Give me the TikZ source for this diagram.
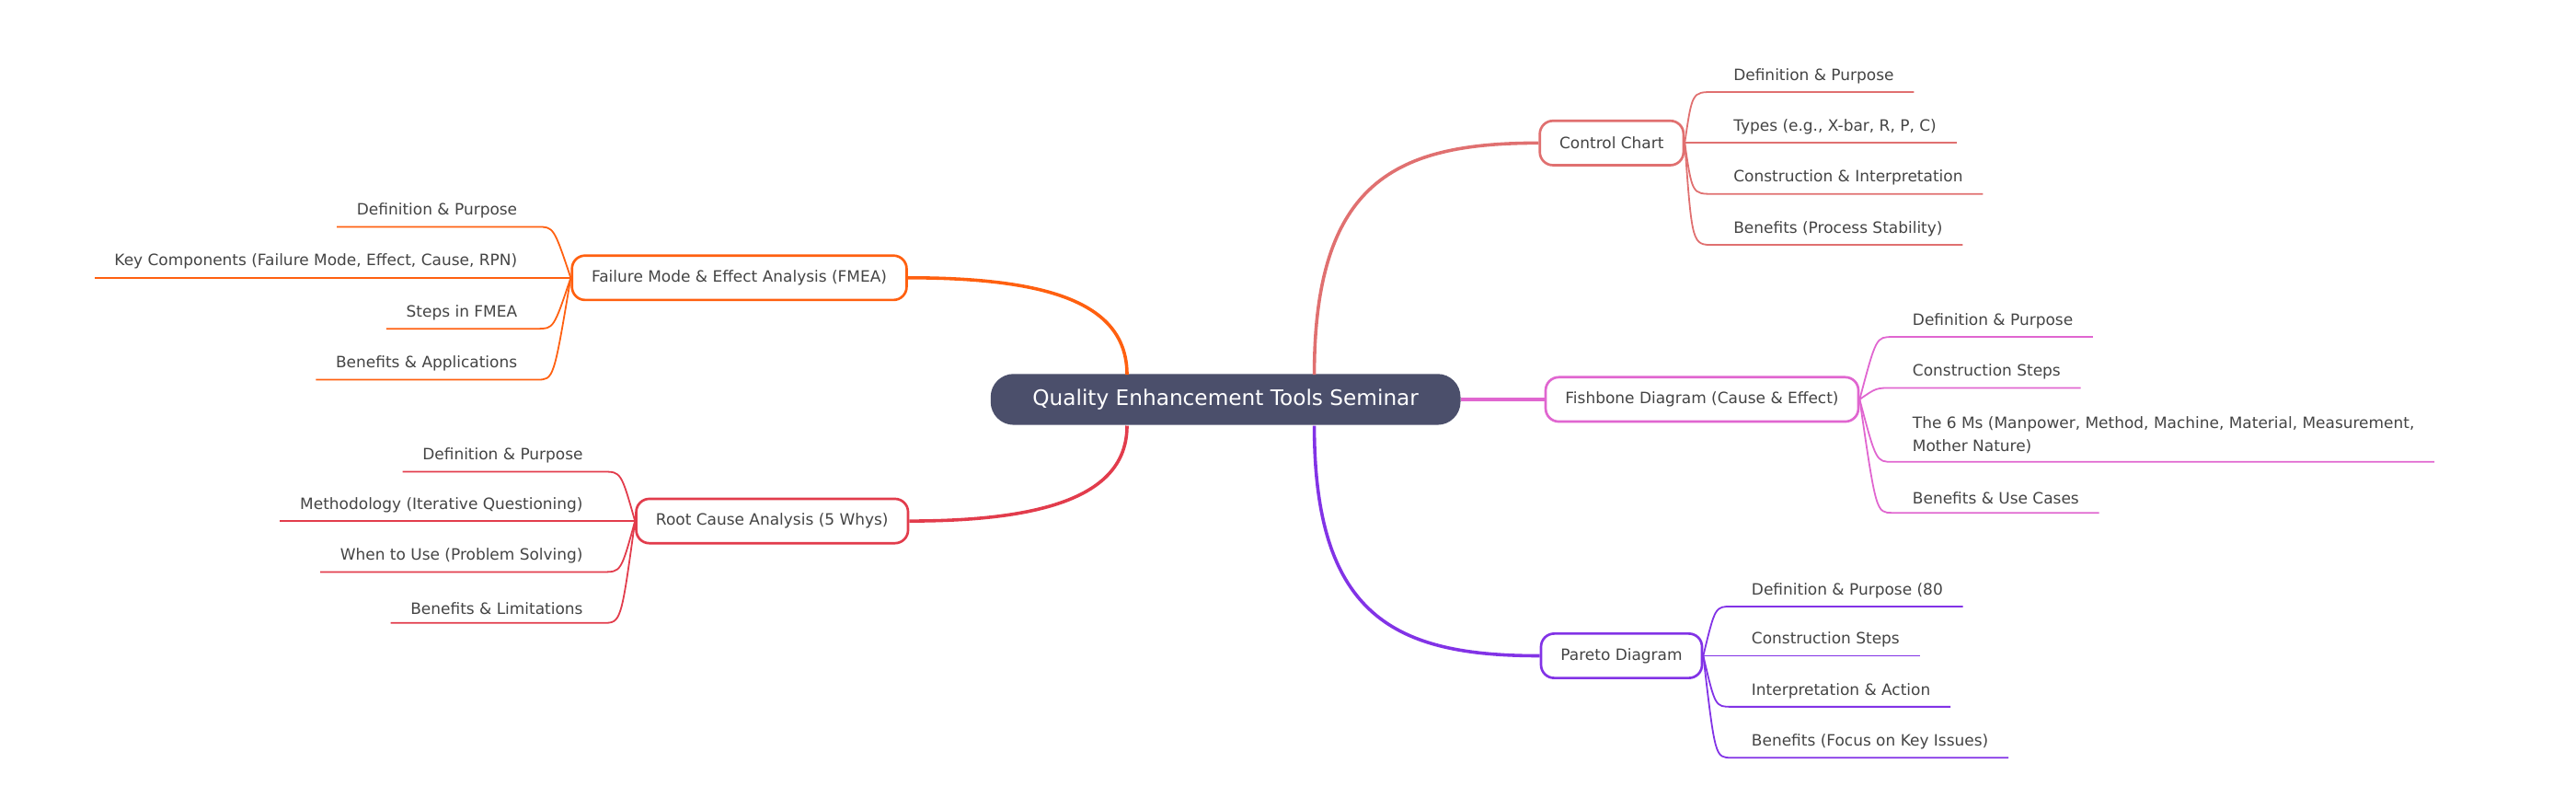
\documentclass[tikz,border=0pt]{standalone}
\usepackage{fontspec}
\setmainfont{DejaVu Sans}
\begin{document}
\begin{tikzpicture}[x=1pt,y=-1pt,
  main/.style={rounded corners=14pt,fill=cmain,text=white,font=\fontsize{13}{15}\selectfont,minimum width=286pt,minimum height=31pt},
  topic/.style={draw=#1,line width=1.5pt,rounded corners=8pt,fill=white,text=txt,font=\fontsize{9.5}{11}\selectfont,minimum height=27pt,inner xsep=12pt},
  leaf/.style={text=txt,font=\fontsize{9.5}{14}\selectfont,inner xsep=12pt,inner ysep=5pt,align=left},
  br/.style={draw=#1,line width=2pt},
  lf/.style={draw=#1,line width=1pt}]
\definecolor{cmain}{HTML}{4B4F6B}
\definecolor{txt}{HTML}{444444}
\definecolor{ccc}{HTML}{E07070}
\definecolor{cfb}{HTML}{E066D0}
\definecolor{cpa}{HTML}{8233E6}
\definecolor{cfm}{HTML}{FF6010}
\definecolor{crc}{HTML}{E23C4C}
\useasboundingbox (0,0) rectangle (1568,485.5);

\node[main] (c) at (746,243) {Quality Enhancement Tools Seminar};
\coordinate (cR1) at (800,228);
\coordinate (cR3) at (800,259);
\coordinate (cL1) at (686,228);
\coordinate (cL2) at (686,259);

\node[topic=ccc] (cc) at (981,87) {Control Chart};
\node[topic=cfb] (fb) at (1036,243) {Fishbone Diagram (Cause \& Effect)};
\node[topic=cpa] (pa) at (987,399) {Pareto Diagram};
\node[topic=cfm] (fm) at (450,169) {Failure Mode \& Effect Analysis (FMEA)};
\node[topic=crc] (rc) at (470,317) {Root Cause Analysis (5 Whys)};

\draw[br=ccc] (cR1) .. controls (800,110) and (850,87) .. (cc.west);
\draw[br=cfb] (c.east) -- (fb.west);
\draw[br=cpa] (cR3) .. controls (800,376) and (850,399) .. (pa.west);
\draw[br=cfm] (cL1) .. controls (686,185) and (640,169) .. (fm.east);
\draw[br=crc] (cL2) .. controls (686,300) and (640,317) .. (rc.east);

% Control chart leaves
\foreach \n/\y/\t in {c1/56/Definition \& Purpose, c2/87/{Types (e.g., X-bar, R, P, C)}, c3/118/Construction \& Interpretation, c4/149/Benefits (Process Stability)}{
  \node[leaf,anchor=south west] (\n) at (1043,\y) {\t};
  \draw[lf=ccc] (cc.east) .. controls (1030,\y) and (1030,\y) .. (\n.south west) -- (\n.south east);
}
% Fishbone leaves
\foreach \n/\y/\t in {f1/205/Definition \& Purpose, f2/236/Construction Steps, f3/281/{The 6 Ms (Manpower, Method, Machine, Material, Measurement,\\Mother Nature)}, f4/312/Benefits \& Use Cases}{
  \node[leaf,anchor=south west] (\n) at (1152,\y) {\t};
  \draw[lf=cfb] (fb.east) .. controls (1142,\y) and (1142,\y) .. (\n.south west) -- (\n.south east);
}
% Pareto leaves
\foreach \n/\y/\t in {p1/369/Definition \& Purpose (80/20 Rule), p2/399/Construction Steps, p3/430/Interpretation \& Action, p4/461/Benefits (Focus on Key Issues)}{
  \node[leaf,anchor=south west] (\n) at (1054,\y) {\t};
  \draw[lf=cpa] (pa.east) .. controls (1044,\y) and (1044,\y) .. (\n.south west) -- (\n.south east);
}
% FMEA leaves
\foreach \n/\y/\t in {m1/138/Definition \& Purpose, m2/169/{Key Components (Failure Mode, Effect, Cause, RPN)}, m3/200/Steps in FMEA, m4/231/Benefits \& Applications}{
  \node[leaf,anchor=south east] (\n) at (327,\y) {\t};
  \draw[lf=cfm] (fm.west) .. controls (337,\y) and (337,\y) .. (\n.south east) -- (\n.south west);
}
% RCA leaves
\foreach \n/\y/\t in {r1/287/Definition \& Purpose, r2/317/Methodology (Iterative Questioning), r3/348/When to Use (Problem Solving), r4/379/Benefits \& Limitations}{
  \node[leaf,anchor=south east] (\n) at (367,\y) {\t};
  \draw[lf=crc] (rc.west) .. controls (378,\y) and (378,\y) .. (\n.south east) -- (\n.south west);
}
\end{tikzpicture}
\end{document}
